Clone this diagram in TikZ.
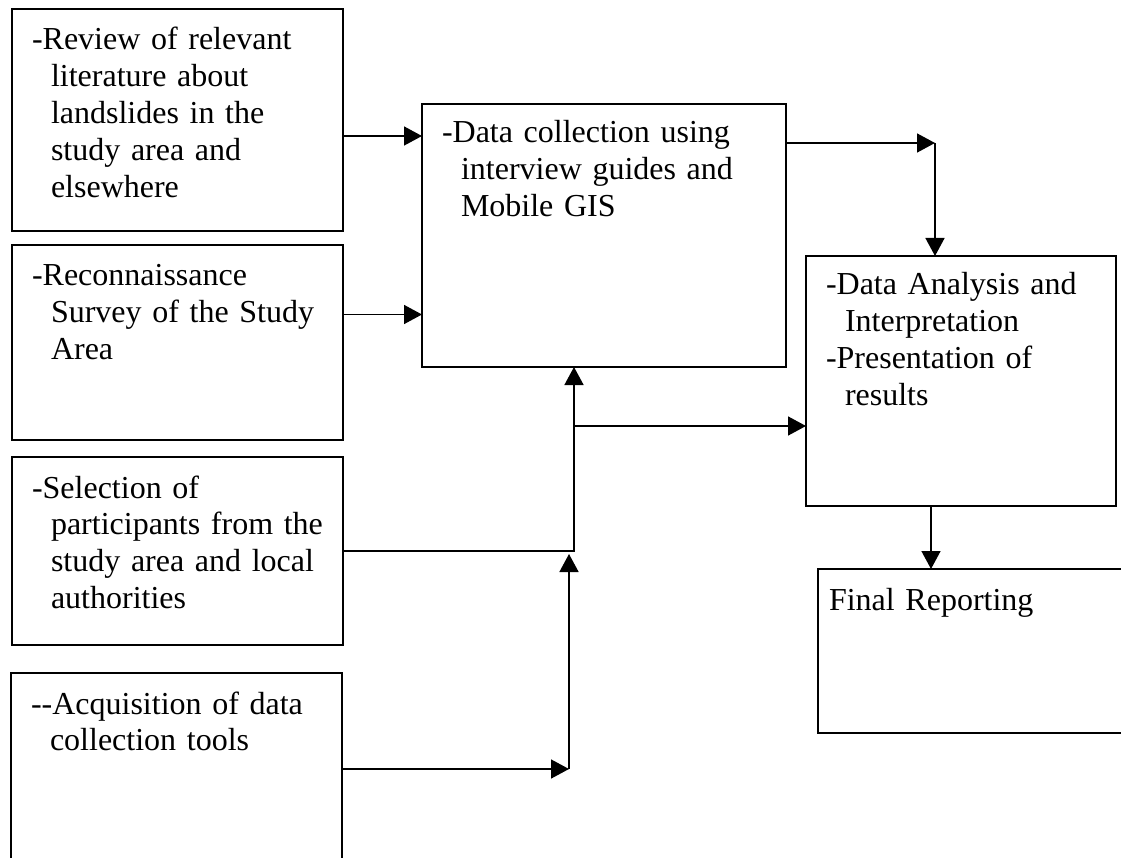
\documentclass[tikz,border=0pt]{standalone}
\usepackage{fontspec}
\setmainfont{Liberation Serif}
\usetikzlibrary{arrows.meta,positioning}

\newcommand{\hng}{\hspace*{19pt}}

\begin{document}
\begin{tikzpicture}[x=1pt, y=-1pt,
    stage/.style={draw, line width=1.3pt, anchor=north west, align=left,
        inner xsep=20pt, inner ysep=0pt, outer sep=0pt, text height=41pt,
        font=\fontsize{32}{36.8}\selectfont},
    flow/.style={-{Triangle[length=18pt,width=19pt]}, line width=1.5pt},
    link/.style={line width=1.5pt}]
    \useasboundingbox (0,0) rectangle (1121,858);
    \clip (0,0) rectangle (1121,858);

    % left column
    \node[stage, text width=291pt, text depth=181pt] (review) at (12,9)
        {-Review of relevant\\\hng literature about\\\hng landslides in the\\\hng study area and\\\hng elsewhere};
    \node[stage, text width=291pt, text depth=154pt, below=14pt of review.south west, anchor=north west] (recon)
        {-Reconnaissance\\\hng Survey of the Study\\\hng Area};
    \node[stage, text width=291pt, text depth=147pt, below=17pt of recon.south west, anchor=north west] (select)
        {-Selection of\\\hng participants from the\\\hng study area and local\\\hng authorities};
    \node[stage, text width=291pt, text depth=159pt] (acquire) at (11,673)
        {-{}-Acquisition of data\\\hng collection tools};

    % middle and right
    \node[stage, text width=324pt, text height=39pt, text depth=224pt] (collect) at (422,104)
        {-Data collection using\\\hng interview guides and\\\hng Mobile GIS};
    \node[stage, text width=270pt, text height=39pt, text depth=211pt] (analysis) at (806,256)
        {-Data Analysis and\\\hng Interpretation\\-Presentation of\\\hng results};
    \node[stage, inner xsep=11pt, text width=298pt, text depth=123pt] (report) at (818,569)
        {Final Reporting};

    \coordinate (join) at (574,551);
    \coordinate (split) at (574,426);
    \coordinate (lift) at (569,769);
    \coordinate (turn) at (935,143);

    \draw[flow] ([yshift=-16pt]review.east) coordinate (r1) -- (r1 -| collect.west);
    \draw[flow] ([yshift=28pt]recon.east) coordinate (r2) -- (r2 -| collect.west);
    \draw[link] (select.east) -- (join) -- (split);
    \draw[flow] (split) -- (split |- collect.south);
    \draw[flow] (split) -- (split -| analysis.west);
    \draw[flow] ([yshift=4pt]acquire.east) -- (lift);
    \draw[flow, shorten >=3pt] (lift) -- (lift |- join);
    \draw[flow] ([yshift=-39pt]collect.north east) -- (turn);
    \draw[flow] (turn) -- (turn |- analysis.north);
    \draw[flow] ([xshift=-30pt]analysis.south) coordinate (r6) -- (r6 |- report.north);
\end{tikzpicture}
\end{document}
